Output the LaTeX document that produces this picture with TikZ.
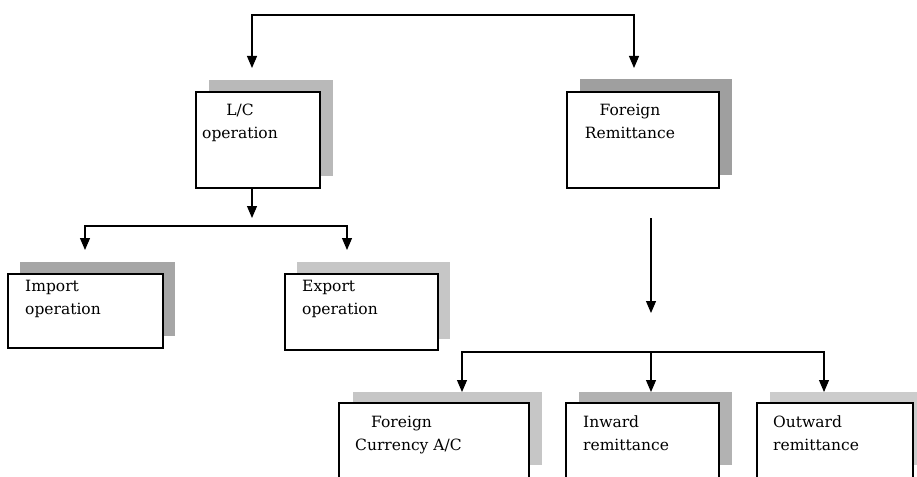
\documentclass[tikz,border=0pt]{standalone}
\usepackage{fontspec}
\setmainfont{DejaVu Serif}
\usetikzlibrary{arrows.meta}
\begin{document}
\begin{tikzpicture}[x=1pt,y=-1pt,
  box/.style={draw=black, line width=1.1pt, fill=white, rectangle, inner sep=0},
  shadowbox/.style={fill=#1, draw=none},
  lbl/.style={inner sep=0, font=\fontsize{15.5}{22.5}\selectfont},
  arr/.style={line width=1.1pt, -{Triangle[width=10pt,length=12pt]}},
  arrs/.style={line width=1.1pt, {Triangle[width=10pt,length=12pt]}-{Triangle[width=10pt,length=12pt]}},
]
\useasboundingbox (0,0) rectangle (917,476);
\clip (0,0) rectangle (917,476);

% shadows
\fill[shadowbox=gray!55] (209,80) rectangle (333,176);
\fill[shadowbox=gray!75] (580,79) rectangle (732,175);
\fill[shadowbox=gray!70] (20,262) rectangle (175,336);
\fill[shadowbox=gray!45] (297,262) rectangle (450,339);
\fill[shadowbox=gray!45] (353,392) rectangle (542,465);
\fill[shadowbox=gray!60] (579,392) rectangle (732,465);
\fill[shadowbox=gray!40] (770,392) rectangle (926,465);

% front boxes
\node[box, minimum width=124pt, minimum height=96pt] (lc) at (258,140) {};
\node[box, minimum width=152pt, minimum height=96pt] (fr) at (643,140) {};
\node[box, minimum width=155pt, minimum height=74pt] (imp) at (85.5,311) {};
\node[box, minimum width=153pt, minimum height=76pt] (exp) at (361.5,312) {};
\node[box, minimum width=190pt, minimum height=87pt] (fc) at (434,446.5) {};
\node[box, minimum width=153pt, minimum height=87pt] (inw) at (642.5,446.5) {};
\node[box, minimum width=156pt, minimum height=87pt] (out) at (835,446.5) {};

% labels
\node[lbl, anchor=north, align=center] (lct) at (240,104) {L/C\\operation};
\node[lbl, anchor=north, align=center] (frt) at (630,104) {Foreign\\Remittance};
\node[lbl, anchor=north west, align=left] (impt) at (25,280) {Import\\operation};
\node[lbl, anchor=north west, align=left] (expt) at (302,280) {Export\\operation};
\node[lbl, anchor=north west, align=left] (fct) at (355,416) {\hspace*{16pt}Foreign\\Currency A/C};
\node[lbl, anchor=north west, align=left] (inwt) at (583,416) {Inward\\remittance};
\node[lbl, anchor=north west, align=left] (outt) at (773,416) {Outward\\remittance};

% connector end points
\coordinate (lcIn) at (252,68);
\coordinate (frIn) at (634,68);
\coordinate (lcOut) at (252,218);
\coordinate (impIn) at (85,250);
\coordinate (expIn) at (347,250);
\coordinate (frA) at (651,218);
\coordinate (frB) at (651,313);
\coordinate (fcIn) at (462,392);
\coordinate (inwIn) at (651,392);
\coordinate (outIn) at (824,392);

% connectors
\draw[arrs] (lcIn) -- (lcIn |- 0,15) -- (frIn |- 0,15) -- (frIn);
\draw[arr] (lc.south -| lcOut) -- (lcOut);
\draw[arrs] (impIn) -- (impIn |- 0,226) -- (expIn |- 0,226) -- (expIn);
\draw[arr] (frA) -- (frB);
\draw[arrs] (fcIn) -- (fcIn |- 0,352) -- (outIn |- 0,352) -- (outIn);
\draw[arr] (inwIn |- 0,352) -- (inwIn);
\end{tikzpicture}
\end{document}
